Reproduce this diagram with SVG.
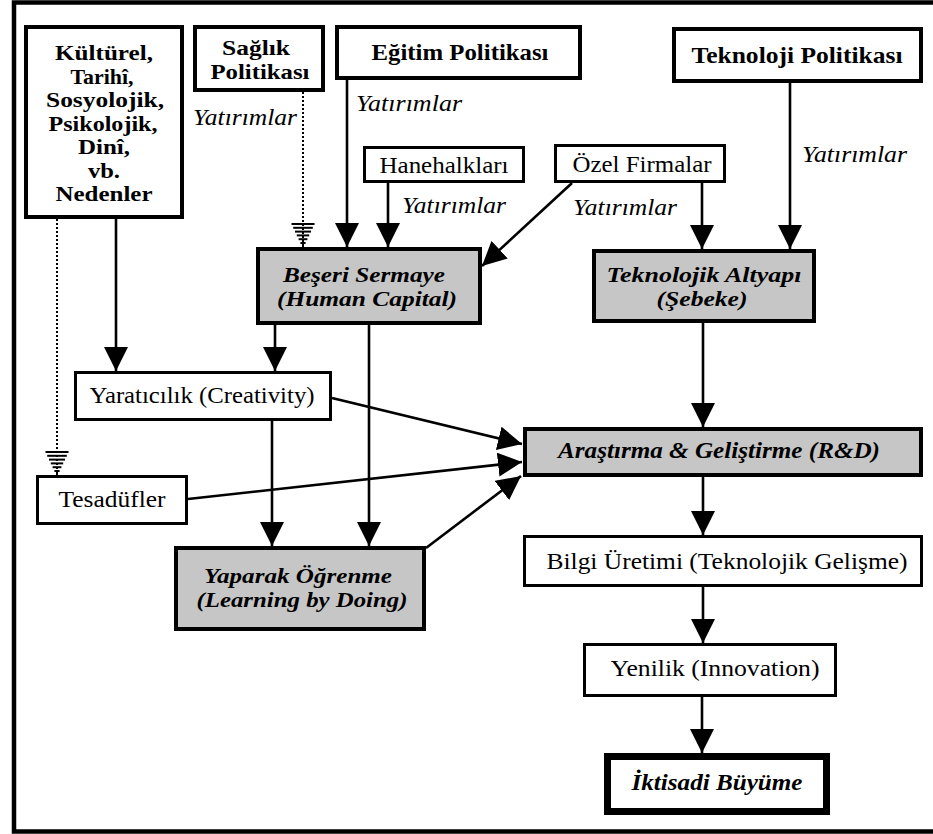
<svg xmlns="http://www.w3.org/2000/svg" width="933" height="834" viewBox="0 0 933 834">
<style>
.box{fill:#fff;stroke:#000;stroke-width:3}
.bbox{fill:#fff;stroke:#000;stroke-width:4}
.gbox{fill:#c6c6c6;stroke:#000;stroke-width:4}
.t{font-family:"Liberation Serif","Times New Roman",serif;font-size:24px;fill:#000}
.m{font-size:22px}
.b{font-weight:bold}
.i{font-style:italic}
.c{text-anchor:middle}
.ln{fill:none;stroke:#000;stroke-width:2.6}
.dot{fill:none;stroke:#000;stroke-width:2;stroke-dasharray:2 2}
</style>
<defs>
<marker id="ah" viewBox="0 0 24 24" refX="24" refY="12" markerWidth="24" markerHeight="24" markerUnits="userSpaceOnUse" orient="auto">
<path d="M0,0 L24,12 L0,24 Z" fill="#000"/>
</marker>
<marker id="hh" viewBox="0 0 26 26" refX="26" refY="13" markerWidth="26" markerHeight="26" markerUnits="userSpaceOnUse" orient="auto">
<g stroke="#000" stroke-width="2">
<line x1="3" y1="1.5" x2="3" y2="24.5"/>
<line x1="6.8" y1="3.2" x2="6.8" y2="22.8"/>
<line x1="10.6" y1="5" x2="10.6" y2="21"/>
<line x1="14.4" y1="6.8" x2="14.4" y2="19.2"/>
<line x1="18.2" y1="8.6" x2="18.2" y2="17.4"/>
<line x1="22" y1="10.4" x2="22" y2="15.6"/>
<line x1="25" y1="12" x2="25" y2="14"/>
</g>
</marker>
</defs>
<rect width="933" height="834" fill="#fff"/>
<rect id="frame" x="14" y="2.5" width="930" height="829" fill="none" stroke="#000" stroke-width="4.5"/>

<g id="connectors">
<line class="dot" x1="303" y1="92" x2="303" y2="247" marker-end="url(#hh)"/>
<line class="dot" x1="57" y1="219" x2="57" y2="475" marker-end="url(#hh)"/>
<line class="ln" x1="347" y1="80" x2="347" y2="247" marker-end="url(#ah)"/>
<line class="ln" x1="388" y1="183" x2="388" y2="247" marker-end="url(#ah)"/>
<line class="ln" x1="572" y1="183" x2="482" y2="266" marker-end="url(#ah)"/>
<line class="ln" x1="702" y1="183" x2="702" y2="249" marker-end="url(#ah)"/>
<line class="ln" x1="790" y1="83" x2="790" y2="249" marker-end="url(#ah)"/>
<line class="ln" x1="116" y1="219" x2="116" y2="371" marker-end="url(#ah)"/>
<line class="ln" x1="275" y1="325" x2="275" y2="371" marker-end="url(#ah)"/>
<line class="ln" x1="369" y1="325" x2="369" y2="546" marker-end="url(#ah)"/>
<line class="ln" x1="272" y1="421" x2="272" y2="546" marker-end="url(#ah)"/>
<line class="ln" x1="332" y1="398" x2="522" y2="444" marker-end="url(#ah)"/>
<line class="ln" x1="188" y1="499" x2="522" y2="462" marker-end="url(#ah)"/>
<line class="ln" x1="426" y1="548" x2="521" y2="476" marker-end="url(#ah)"/>
<line class="ln" x1="703" y1="323" x2="703" y2="427" marker-end="url(#ah)"/>
<line class="ln" x1="703" y1="477" x2="703" y2="535" marker-end="url(#ah)"/>
<line class="ln" x1="703" y1="587" x2="703" y2="643" marker-end="url(#ah)"/>
<line class="ln" x1="702" y1="697" x2="702" y2="753" marker-end="url(#ah)"/>
<g class="t i">
<text x="193" y="125" textLength="104" lengthAdjust="spacingAndGlyphs">Yatırımlar</text>
<text x="356" y="111" textLength="106" lengthAdjust="spacingAndGlyphs">Yatırımlar</text>
<text x="402" y="213" textLength="104" lengthAdjust="spacingAndGlyphs">Yatırımlar</text>
<text x="573" y="215" textLength="104" lengthAdjust="spacingAndGlyphs">Yatırımlar</text>
<text x="802" y="162" textLength="105" lengthAdjust="spacingAndGlyphs">Yatırımlar</text>
</g>
</g>

<g id="kulturel">
<rect class="bbox" x="26" y="27" width="156" height="190"/>
<g class="t m b c">
<text x="104" y="60" textLength="98" lengthAdjust="spacingAndGlyphs">Kültürel,</text>
<text x="102" y="83.5" textLength="63" lengthAdjust="spacingAndGlyphs">Tarihî,</text>
<text x="105" y="107" textLength="118" lengthAdjust="spacingAndGlyphs">Sosyolojik,</text>
<text x="103" y="130.5" textLength="109" lengthAdjust="spacingAndGlyphs">Psikolojik,</text>
<text x="104" y="154" textLength="52" lengthAdjust="spacingAndGlyphs">Dinî,</text>
<text x="104" y="177.5" textLength="32" lengthAdjust="spacingAndGlyphs">vb.</text>
<text x="104" y="201" textLength="97" lengthAdjust="spacingAndGlyphs">Nedenler</text>
</g>
</g>

<g id="saglik">
<rect class="bbox" x="195" y="27" width="128" height="63"/>
<text class="t m b c" x="256" y="55" textLength="68" lengthAdjust="spacingAndGlyphs">Sağlık</text>
<text class="t m b c" x="260" y="78.5" textLength="99" lengthAdjust="spacingAndGlyphs">Politikası</text>
</g>

<g id="egitim">
<rect class="bbox" x="337" y="27" width="243" height="51"/>
<text class="t b c" x="460" y="60" textLength="177" lengthAdjust="spacingAndGlyphs">Eğitim Politikası</text>
</g>

<g id="teknoloji-pol">
<rect class="bbox" x="674" y="29" width="247" height="52"/>
<text class="t b c" x="797" y="63" textLength="211" lengthAdjust="spacingAndGlyphs">Teknoloji Politikası</text>
</g>

<g id="hanehalklari">
<rect class="box" x="364.5" y="147.5" width="159" height="34"/>
<text class="t c" x="444" y="173" textLength="129" lengthAdjust="spacingAndGlyphs">Hanehalkları</text>
</g>

<g id="ozel">
<rect class="box" x="555.5" y="145.5" width="169" height="36"/>
<text class="t c" x="642" y="172" textLength="139" lengthAdjust="spacingAndGlyphs">Özel Firmalar</text>
</g>

<g id="beseri">
<rect class="gbox" x="258" y="249" width="222" height="74"/>
<text class="t m b i c" x="364" y="282" textLength="162" lengthAdjust="spacingAndGlyphs">Beşeri Sermaye</text>
<text class="t m b i c" x="367" y="305.5" textLength="180" lengthAdjust="spacingAndGlyphs">(Human Capital)</text>
</g>

<g id="teknolojik">
<rect class="gbox" x="594" y="251" width="220" height="70"/>
<text class="t m b i c" x="704" y="282" textLength="195" lengthAdjust="spacingAndGlyphs">Teknolojik Altyapı</text>
<text class="t m b i c" x="702" y="305.5" textLength="91" lengthAdjust="spacingAndGlyphs">(Şebeke)</text>
</g>

<g id="yaraticilik">
<rect class="box" x="75.5" y="372.5" width="255" height="47"/>
<text class="t c" x="202" y="403" textLength="225" lengthAdjust="spacingAndGlyphs">Yaratıcılık (Creativity)</text>
</g>

<g id="tesadufler">
<rect class="box" x="37.5" y="476.5" width="149" height="47"/>
<text class="t c" x="112" y="507" textLength="107" lengthAdjust="spacingAndGlyphs">Tesadüfler</text>
</g>

<g id="yaparak">
<rect class="gbox" x="176" y="548" width="248" height="81"/>
<text class="t m b i c" x="298" y="583" textLength="188" lengthAdjust="spacingAndGlyphs">Yaparak Öğrenme</text>
<text class="t m b i c" x="302" y="606.5" textLength="211" lengthAdjust="spacingAndGlyphs">(Learning by Doing)</text>
</g>

<g id="arge">
<rect class="gbox" x="525" y="429" width="396" height="46"/>
<text class="t b i c" x="719" y="458" textLength="322" lengthAdjust="spacingAndGlyphs">Araştırma &amp; Geliştirme (R&amp;D)</text>
</g>

<g id="bilgi">
<rect class="box" x="524.5" y="536.5" width="397" height="49"/>
<text class="t c" x="727" y="569" textLength="361" lengthAdjust="spacingAndGlyphs">Bilgi Üretimi (Teknolojik Gelişme)</text>
</g>

<g id="yenilik">
<rect class="box" x="584.5" y="644.5" width="251" height="51"/>
<text class="t c" x="715" y="676" textLength="209" lengthAdjust="spacingAndGlyphs">Yenilik (Innovation)</text>
</g>

<g id="iktisadi">
<rect fill="#fff" stroke="#000" stroke-width="7" x="607.5" y="756.5" width="219" height="55"/>
<text class="t b i c" x="717" y="790" textLength="171" lengthAdjust="spacingAndGlyphs">İktisadi Büyüme</text>
</g>
</svg>
